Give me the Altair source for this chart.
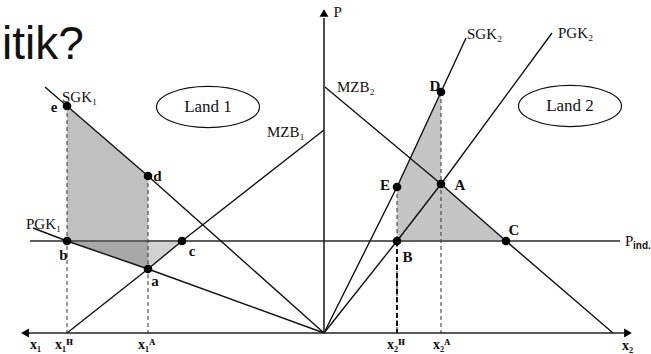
import altair as alt
import pandas as pd

# ---------------------------------------------------------------
# Partial-equilibrium diagram: Land 1 (x1 to the left of the price
# axis, stored as negative quantities) and Land 2 (x2 to the right).
# ---------------------------------------------------------------
P_IND = 9.2          # world-market / indifference price

# marked points (quantity, price)
pt_names = ["e", "d", "b", "c", "a", "D", "E", "A", "B", "C"]
pt_x = [-25.7, -17.6, -25.7, -14.2, -17.6, 11.7, 7.3, 11.7, 7.3, 18.2]
pt_p = [22.7, 15.7, 9.2, 9.2, 6.4, 24.1, 14.6, 14.9, 9.2, 9.2]

# curves (polylines through the marked points)
sgk1_x = [0.0, -17.6, -25.7, -27.9]
sgk1_p = [0.0, 15.7, 22.7, 24.6]
pgk1_x = [0.0, -17.6, -25.7, -29.1]
pgk1_p = [0.0, 6.4, 9.2, 10.5]
mzb1_x = [-25.7, -17.6, -14.2, 0.0]
mzb1_p = [0.0, 6.4, 9.2, 20.3]
sgk2_x = [0.0, 7.3, 11.7, 14.2]
sgk2_p = [0.0, 14.6, 24.1, 29.5]
pgk2_x = [0.0, 7.3, 11.7, 22.8]
pgk2_p = [0.0, 9.2, 14.9, 30.0]
mzb2_x = [0.1, 11.7, 18.2, 28.9]
mzb2_p = [24.6, 14.9, 9.2, 0.0]

# quantity marks on the x axis (x1^H, x1^A, x2^H, x2^A) and their tops
drop_x = [-25.7, -17.6, 7.3, 11.7]
drop_top = [22.7, 15.7, 14.6, 24.1]

# shaded welfare areas: part, x, upper price, lower price
shade_part = ["L1", "L1", "L2", "L2", "L3", "L3", "R1", "R1", "R2", "R2"]
shade_x = [-25.7, -17.6, -25.7, -17.6, -17.6, -14.2, 7.3, 11.7, 11.7, 18.2]
shade_hi = [22.7, 15.7, 9.2, 9.2, 9.2, 9.2, 14.6, 24.1, 14.9, 9.2]
shade_lo = [9.2, 9.2, 9.2, 6.4, 6.4, 9.2, 9.2, 9.2, 9.2, 9.2]
shade_cols = ["#c0c0c0", "#a8a8a8", "#d2d2d2", "#c5c5c5", "#c5c5c5"]

XD = [-32.4, 32.7]
YD = [-2.1, 33.3]
SERIF = "Liberation Serif, DejaVu Serif, serif"
SANS = "Liberation Sans, Arial, sans-serif"


def X(f="x"):
    return alt.X(f"{f}:Q", scale=alt.Scale(domain=XD, nice=False, zero=False), axis=None)


def Y(f="p"):
    return alt.Y(f"{f}:Q", scale=alt.Scale(domain=YD, nice=False, zero=False), axis=None)


# ---- shaded areas
shade_df = pd.DataFrame({"part": shade_part, "x": shade_x, "hi": shade_hi, "lo": shade_lo})
areas = alt.Chart(shade_df).mark_area(opacity=1, interpolate="linear").encode(
    x=X(), y=Y("hi"), y2=alt.Y2("lo:Q"),
    color=alt.Color("part:N", scale=alt.Scale(domain=["L1", "L2", "L3", "R1", "R2"], range=shade_cols), legend=None),
    detail="part:N",
)

# ---- curves
rows = []
for name, xs, ps in [("SGK1", sgk1_x, sgk1_p), ("PGK1", pgk1_x, pgk1_p), ("MZB1", mzb1_x, mzb1_p),
                     ("SGK2", sgk2_x, sgk2_p), ("PGK2", pgk2_x, pgk2_p), ("MZB2", mzb2_x, mzb2_p)]:
    for i, (xv, pv) in enumerate(zip(xs, ps)):
        rows.append({"curve": name, "ord": i, "x": xv, "p": pv})
curves = alt.Chart(pd.DataFrame(rows)).mark_line(color="#111111", strokeWidth=1.4).encode(
    x=X(), y=Y(), detail="curve:N", order="ord:Q"
)

# ---- world price line
pind = alt.Chart(pd.DataFrame({"x": [-29.4], "x2": [29.6], "p": [P_IND]})).mark_rule(
    color="#5e5e5e", strokeWidth=1.8
).encode(x=X(), x2="x2:Q", y=Y())

# ---- dashed drop lines
drops = alt.Chart(pd.DataFrame({"x": drop_x, "top": drop_top, "bot": [0.0] * 4})).mark_rule(
    color="#444444", strokeWidth=1.1, strokeDash=[4, 3]
).encode(x=X(), y=Y("top"), y2="bot:Q")
drop_B = alt.Chart(pd.DataFrame({"x": [7.3], "top": [P_IND], "bot": [0.0]})).mark_rule(
    color="#111111", strokeWidth=2, strokeDash=[5, 3]
).encode(x=X(), y=Y("top"), y2="bot:Q")

# ---- axes with arrow heads
x_axis = alt.Chart(pd.DataFrame({"x": [-30.0], "x2": [30.4], "p": [0.0]})).mark_rule(
    color="#222222", strokeWidth=1.6
).encode(x=X(), x2="x2:Q", y=Y())
p_axis = alt.Chart(pd.DataFrame({"x": [0.0], "p": [0.0], "p2": [31.5]})).mark_rule(
    color="#222222", strokeWidth=1.6
).encode(x=X(), y=Y(), y2="p2:Q")
arrows = alt.Chart(pd.DataFrame({
    "x": [-29.9, 30.4, 0.0], "p": [0.0, 0.0, 32.0],
    "shape": ["triangle-left", "triangle-right", "triangle-up"],
})).mark_point(filled=True, color="#000000", size=80, opacity=1).encode(
    x=X(), y=Y(), shape=alt.Shape("shape:N", scale=None)
)

# ---- points
dots = alt.Chart(pd.DataFrame({"name": pt_names, "x": pt_x, "p": pt_p})).mark_circle(
    size=75, color="#000000", opacity=1
).encode(x=X(), y=Y())

# ---- "Land" ellipses
ELLIPSE = ("M -1 0 C -1 -0.2209 -0.5523 -0.4 0 -0.4 C 0.5523 -0.4 1 -0.2209 1 0 "
           "C 1 0.2209 0.5523 0.4 0 0.4 C -0.5523 0.4 -1 0.2209 -1 0 Z")
land_df = pd.DataFrame({"label": ["Land 1", "Land 2"], "x": [-11.6, 24.6], "p": [22.6, 22.7]})
ellipses = alt.Chart(land_df).mark_point(
    shape=ELLIPSE, size=103 * 103, filled=False, color="#111111", strokeWidth=1.2, opacity=1
).encode(x=X(), y=Y())
land_text = alt.Chart(land_df).mark_text(
    font=SERIF, fontSize=17, color="#111111", baseline="middle"
).encode(x=X(), y=Y(), text="label:N")

# ---- labels
curve_lab = pd.DataFrame({
    "t": ["SGK₁", "PGK₁", "MZB₁", "MZB₂", "SGK₂", "PGK₂", "P", "P"],
    "x": [-26.2, -29.8, -5.7, 1.3, 14.3, 23.4, 0.95, 30.1],
    "p": [23.6, 10.9, 20.1, 24.6, 29.9, 30.0, 32.1, 9.2],
})
axis_lab = pd.DataFrame({
    "t": ["x₁", "x₁ᴴ", "x₁ᴬ", "x₂ᴴ", "x₂ᴬ", "x₂"],
    "x": [-29.4, -26.9, -18.6, 6.3, 10.9, 29.8],
    "p": [-1.2, -1.2, -1.2, -1.2, -1.2, -1.3],
})
pt_lab = pd.DataFrame({
    "t": ["e", "d", "b", "c", "a", "D", "E", "A", "B", "C"],
    "x": [-27.0, -16.65, -26.05, -13.2, -16.9, 11.1, 6.1, 13.6, 8.35, 19.0],
    "p": [22.6, 15.7, 7.8, 8.2, 5.2, 24.7, 14.8, 14.8, 7.6, 10.3],
})

t_curve = alt.Chart(curve_lab).mark_text(font=SERIF, fontSize=15, align="left", baseline="middle",
                                         color="#111111").encode(x=X(), y=Y(), text="t:N")
t_axis = alt.Chart(axis_lab).mark_text(font=SERIF, fontSize=14, fontWeight="bold", align="left",
                                       baseline="middle", color="#111111").encode(x=X(), y=Y(), text="t:N")
t_pts = alt.Chart(pt_lab).mark_text(font=SERIF, fontSize=15, fontWeight="bold", align="center",
                                    baseline="middle", color="#111111").encode(x=X(), y=Y(), text="t:N")
t_ind = alt.Chart(pd.DataFrame({"t": ["ind."], "x": [30.9], "p": [8.7]})).mark_text(
    font=SANS, fontSize=10, fontWeight="bold", align="left", baseline="middle", color="#111111"
).encode(x=X(), y=Y(), text="t:N")

# ---- heading fragment
heading = alt.Chart(pd.DataFrame({"t": ["itik?"], "x": [-32.2], "p": [27.4]})).mark_text(
    font=SANS, fontSize=46, align="left", baseline="alphabetic", color="#111111"
).encode(x=X(), y=Y(), text="t:N")

chart = alt.layer(
    areas, pind, drops, drop_B, curves, x_axis, p_axis, arrows, dots,
    ellipses, land_text, t_curve, t_axis, t_pts, t_ind, heading
).properties(width=651, height=354, padding=0, autosize="none", background="white").configure_view(stroke=None)

chart.save("out.html", embed_options={"renderer": "svg", "actions": False})
